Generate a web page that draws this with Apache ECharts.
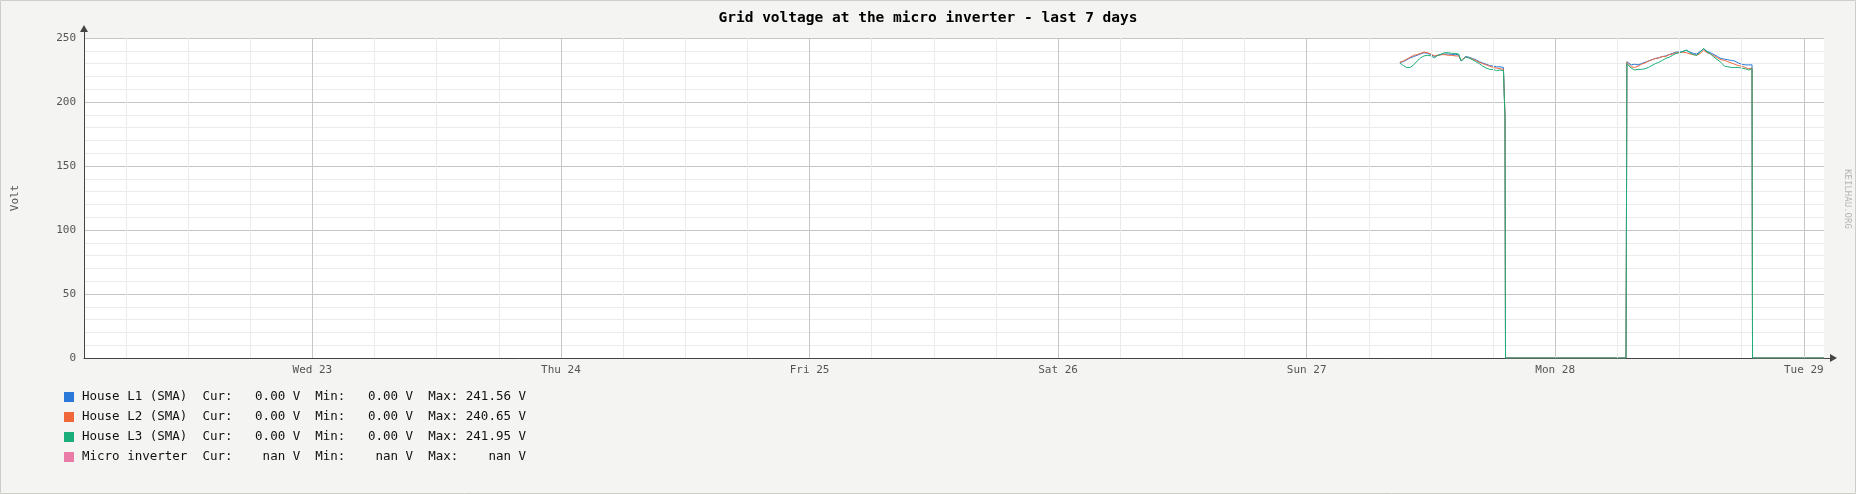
<!DOCTYPE html>
<html>
<head>
<meta charset="utf-8">
<script src="https://cdn.jsdelivr.net/npm/echarts@6/dist/echarts.min.js"></script>
<style>
html,body{margin:0;padding:0;background:#f4f4f2;}
#chart{width:1856px;height:494px;}
</style>
</head>
<body>
<div id="chart"></div>
<script>
// ---- data ----
const titleText = 'Grid voltage at the micro inverter - last 7 days';
const dayLabels = ['Wed 23','Thu 24','Fri 25','Sat 26','Sun 27','Mon 28','Tue 29'];
const dayTimes = ['23 00:00','24 00:00','25 00:00','26 00:00','27 00:00','28 00:00','29 00:00'];
const rangeStart = '22 01:57';
const rangeEnd = '29 01:57';
const yTicks = [0, 50, 100, 150, 200, 250];

const seriesNames = ['House L1 (SMA)','House L2 (SMA)','House L3 (SMA)','Micro inverter'];
const curText = ['0.00','0.00','0.00','nan'];
const minText = ['0.00','0.00','0.00','nan'];
const maxText = ['241.56','240.65','241.95','nan'];

const times = [
 '27 09:00','27 09:20','27 09:40','27 10:00','27 10:20','27 10:40','27 11:00','27 11:20','27 11:40','27 12:00',
 '27 12:20','27 12:40','27 13:00','27 13:20','27 13:40','27 14:00','27 14:20','27 14:40','27 14:55','27 15:20',
 '27 15:40','27 16:00','27 16:20','27 16:40','27 17:00','27 17:20','27 17:40','27 18:00','27 18:20','27 18:40',
 '27 19:00','27 19:09','27 19:12',
 '28 06:50','28 06:52','28 06:55',
 '28 07:00','28 07:20','28 07:40','28 08:00','28 08:20','28 08:40','28 09:00','28 09:20','28 09:40','28 10:00',
 '28 10:20','28 10:40','28 11:00','28 11:20','28 11:40','28 12:00','28 12:20','28 12:40','28 13:00','28 13:20',
 '28 13:40','28 14:00','28 14:20','28 14:40','28 15:00','28 15:20','28 15:40','28 16:00','28 16:20','28 16:40',
 '28 17:00','28 17:20','28 17:40','28 18:00','28 18:20','28 18:40','28 19:00',
 '28 19:03','29 01:57'
];
const houseL1 = [
 231,231.5,233,234.5,235.5,236.5,237.5,238.5,238,237,
 235.5,236.5,237,237.5,237.5,237,237,237,232,235.5,
 235,234,233,231.5,230.5,229.5,228.5,228,227.5,227.5,
 227,188,0,
 0,77,231.5,
 231.5,229,229.5,229,230,231,232,233,234,234.5,
 235.5,236,237,238,239,239,239.5,240.5,239,238,
 237.5,239.5,241.5,239.5,238.5,237,235.5,234,233.5,233,
 232.5,232,230.5,229.5,229,229,229,
 0,0
];
const houseL2 = [
 231,232,233.5,235,236.5,237,238,239,238.5,237.5,
 236,236.5,237,237,236.5,236.5,236,236,232.5,235,
 234.5,233.5,232.5,231,230,229,228,227,226.5,226,
 225.5,189,0,
 0,77,231,
 230.5,227.5,227,228,229.5,230.5,232,233,234,234.5,
 235.5,235.5,237,237.5,238.5,238.5,239,238.5,237.5,237,
 236.5,238,240.5,238.5,237.5,236,234.5,233,232.5,231.5,
 230.5,229.5,228.5,228,227,226,226.5,
 0,0
];
const houseL3 = [
 230.5,228.5,227,227,229,232,234.5,236,236.5,236,
 234.5,236.5,237.5,238.5,238.5,238,238,237.5,232,235,
 234.5,233,231.5,230,228,226.5,225.5,225.5,224.5,225,
 224.5,187,0,
 0,77,230,
 229,226.5,225,225.5,225.5,226,227,228.5,230,231,
 232.5,234,235,236.5,238,238.5,239.5,240.5,238.5,237,
 236.5,239,241.9,239,237.5,235,233,231,228,227.5,
 227,227,227,226.5,226,225,226,
 0,0
];
const microInverter = [];

// ---- helpers ----
function toHours(s){
  const parts = s.split(' ');
  const hm = parts[1].split(':').map(Number);
  return (Number(parts[0]) - 22) * 24 + hm[0] + hm[1] / 60;
}
function pairs(vals){ return vals.map((v,i)=>[toHours(times[i]), v]); }

const dayHours = dayTimes.map(toHours);
const xMin = toHours(rangeStart), xMax = toHours(rangeEnd);

const gridLines = [];
const firstDay = dayHours[0] - 24;
for (let d = firstDay; d <= xMax; d += 24) {
  [6, 12, 18].forEach(o => {
    const h = d + o;
    if (h > xMin && h < xMax) gridLines.push({xAxis: h, lineStyle: {color: '#ebebeb', width: 1, type: 'solid'}});
  });
}
dayHours.forEach(h => gridLines.push({xAxis: h, lineStyle: {color: '#c6c6c6', width: 1, type: 'solid'}}));

const colors = ['#2a79d9', '#f0683a', '#1bae7a', '#e97ca7'];
const mono = 'DejaVu Sans Mono';

function legendText(name){
  const i = seriesNames.indexOf(name);
  return name.padEnd(14) + '  Cur: ' + curText[i].padStart(6) + ' V  Min: ' + minText[i].padStart(6) +
         ' V  Max: ' + maxText[i].padStart(6) + ' V';
}

const dataSets = [houseL1, houseL2, houseL3, microInverter];

const series = [{
  name: '__grid', type: 'line', data: [], z: 1, silent: true,
  markLine: {silent: true, symbol: ['none','none'], label: {show: false}, animation: false, data: gridLines}
}];
seriesNames.forEach((n, i) => {
  series.push({
    name: n, type: 'line', data: dataSets[i].length ? pairs(dataSets[i]) : [],
    showSymbol: false, symbol: 'none', z: 2 + i,
    lineStyle: {width: 1, color: colors[i]}, itemStyle: {color: colors[i]}, color: colors[i]
  });
});

const axisColor = '#444';
const chart = echarts.init(document.getElementById('chart'), null, {renderer: 'canvas'});
chart.setOption({
  animation: false,
  backgroundColor: '#f4f4f2',
  color: colors,
  title: {
    text: titleText, left: 'center', top: 10.5, padding: 0,
    textStyle: {fontFamily: mono, fontWeight: 'bold', fontSize: 14.5, color: '#000'}
  },
  grid: {left: 84, right: 32, top: 38, bottom: 136, show: true, backgroundColor: '#ffffff', borderWidth: 0},
  xAxis: {
    type: 'value', min: xMin, max: xMax,
    axisLine: {show: true, lineStyle: {color: axisColor, width: 1}, symbol: ['none','triangle'], symbolSize: [8, 7], symbolOffset: [0, 9.5]},
    axisTick: {show: false},
    splitLine: {show: false},
    axisLabel: {
      customValues: dayHours, margin: 7, color: '#555', fontFamily: mono, fontSize: 11,
      formatter: v => { const i = dayHours.findIndex(h => Math.abs(h - v) < 1e-6); return i >= 0 ? dayLabels[i] : ''; }
    }
  },
  yAxis: {
    type: 'value', min: yTicks[0], max: yTicks[yTicks.length-1], interval: yTicks[1] - yTicks[0],
    axisLine: {show: true, lineStyle: {color: axisColor, width: 1}, symbol: ['none','triangle'], symbolSize: [8, 7], symbolOffset: [0, 9.5]},
    axisTick: {show: false},
    axisLabel: {margin: 8, color: '#555', fontFamily: mono, fontSize: 11},
    splitLine: {show: true, lineStyle: {color: '#c6c6c6', width: 1}},
    minorTick: {show: false, splitNumber: 5},
    minorSplitLine: {show: true, lineStyle: {color: '#ebebeb', width: 1}}
  },
  legend: {
    data: seriesNames, orient: 'vertical', left: 64, top: 390, padding: 0, icon: 'rect',
    itemWidth: 10, itemHeight: 10, itemGap: 6, selectedMode: false,
    formatter: legendText,
    textStyle: {fontFamily: mono, fontSize: 12.5, color: '#111', lineHeight: 14, padding: [0,0,0,3]}
  },
  graphic: [
    {type: 'rect', silent: true, shape: {x: 0.5, y: 0.5, width: 1855, height: 493}, style: {fill: 'none', stroke: '#cfcfca', lineWidth: 1}},
    {type: 'line', silent: true, shape: {x1: 84.5, y1: 38, x2: 84.5, y2: 31}, style: {stroke: axisColor, lineWidth: 1}},
    {type: 'line', silent: true, shape: {x1: 1824, y1: 358.5, x2: 1831, y2: 358.5}, style: {stroke: axisColor, lineWidth: 1}},
    {type: 'text', silent: true, x: 15, y: 198, rotation: Math.PI / 2,
     style: {text: 'Volt', fill: '#555', font: '11px "DejaVu Sans Mono"', textAlign: 'center', textVerticalAlign: 'middle'}},
    {type: 'text', silent: true, x: 1847, y: 199, rotation: -Math.PI / 2,
     style: {text: 'KEILHAU.ORG', fill: '#b4b4b4', font: '9px "DejaVu Sans Mono"', textAlign: 'center', textVerticalAlign: 'middle'}}
  ],
  series: series
});
</script>
</body>
</html>
